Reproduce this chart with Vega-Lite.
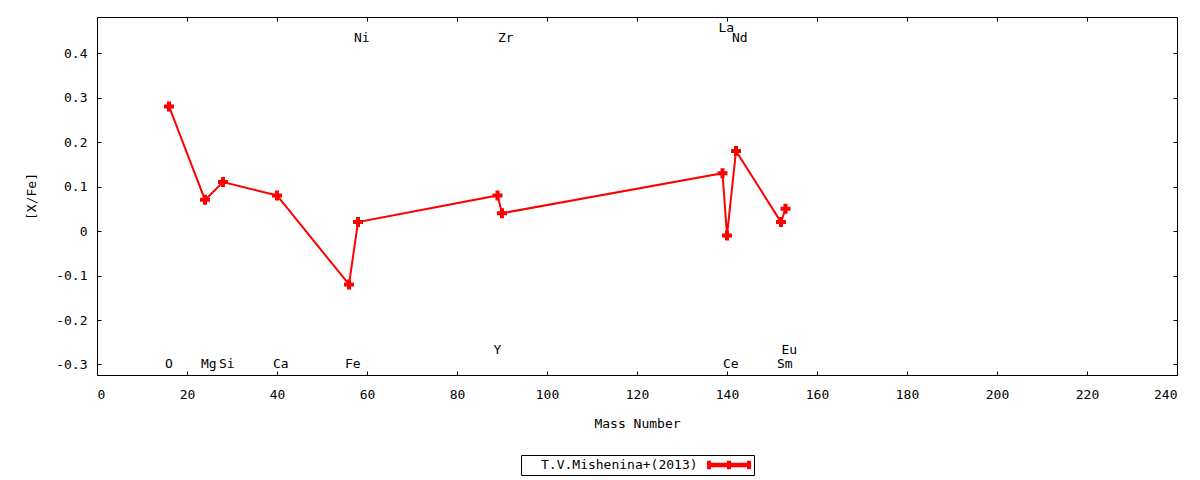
{
  "$schema": "https://vega.github.io/schema/vega-lite/v6.json",
  "width": 1080,
  "height": 358,
  "autosize": "none",
  "padding": {"left": 97, "top": 17, "right": 23, "bottom": 105},
  "background": "white",
  "config": {
    "font": "DejaVu Sans Mono",
    "view": {"stroke": "black", "strokeWidth": 1},
    "axis": {
      "domain": false,
      "grid": false,
      "tickColor": "black",
      "tickSize": -4,
      "labelFont": "DejaVu Sans Mono",
      "labelFontSize": 13,
      "labelColor": "black",
      "titleFont": "DejaVu Sans Mono",
      "titleFontSize": 13,
      "titleFontWeight": "normal",
      "titleColor": "black"
    },
    "legend": {
      "layout": {"bottom": {"anchor": "middle"}}
    }
  },
  "data": {
    "values": [
      {"element": "O", "mass": 16, "xfe": 0.28, "label_y": -0.299, "source": "T.V.Mishenina+(2013)"},
      {"element": "Mg", "mass": 24, "xfe": 0.07, "label_y": -0.299, "source": "T.V.Mishenina+(2013)"},
      {"element": "Si", "mass": 28, "xfe": 0.11, "label_y": -0.299, "source": "T.V.Mishenina+(2013)"},
      {"element": "Ca", "mass": 40, "xfe": 0.08, "label_y": -0.299, "source": "T.V.Mishenina+(2013)"},
      {"element": "Fe", "mass": 56, "xfe": -0.12, "label_y": -0.299, "source": "T.V.Mishenina+(2013)"},
      {"element": "Ni", "mass": 58, "xfe": 0.02, "label_y": 0.434, "source": "T.V.Mishenina+(2013)"},
      {"element": "Y", "mass": 89, "xfe": 0.08, "label_y": -0.267, "source": "T.V.Mishenina+(2013)"},
      {"element": "Zr", "mass": 90, "xfe": 0.04, "label_y": 0.434, "source": "T.V.Mishenina+(2013)"},
      {"element": "La", "mass": 139, "xfe": 0.13, "label_y": 0.456, "source": "T.V.Mishenina+(2013)"},
      {"element": "Ce", "mass": 140, "xfe": -0.01, "label_y": -0.299, "source": "T.V.Mishenina+(2013)"},
      {"element": "Nd", "mass": 142, "xfe": 0.18, "label_y": 0.434, "source": "T.V.Mishenina+(2013)"},
      {"element": "Sm", "mass": 152, "xfe": 0.02, "label_y": -0.299, "source": "T.V.Mishenina+(2013)"},
      {"element": "Eu", "mass": 153, "xfe": 0.05, "label_y": -0.267, "source": "T.V.Mishenina+(2013)"}
    ]
  },
  "layer": [
    {
      "mark": {"type": "line", "strokeWidth": 2, "color": "#ff0000"},
      "encoding": {
        "x": {
          "field": "mass", "type": "quantitative",
          "scale": {"domain": [0, 240], "nice": false, "zero": false},
          "axis": {"orient": "bottom", "values": [0, 20, 40, 60, 80, 100, 120, 140, 160, 180, 200, 220, 240], "title": "Mass Number", "labelPadding": 17, "titlePadding": 16}
        },
        "y": {
          "field": "xfe", "type": "quantitative",
          "scale": {"domain": [-0.3236, 0.481], "nice": false, "zero": false},
          "axis": {"orient": "left", "values": [-0.3, -0.2, -0.1, 0, 0.1, 0.2, 0.3, 0.4], "labelExpr": "'' + round(datum.value * 10) / 10", "title": "[X/Fe]", "labelPadding": 14, "titlePadding": 17}
        },
        "color": {
          "field": "source", "type": "nominal",
          "scale": {"range": ["#ff0000"]},
          "legend": {
            "title": null,
            "orient": "bottom",
            "symbolType": "M-3.14,-0.6H-2.57V-0.33H-0.29V-0.6H0.29V-0.33H2.57V-0.6H3.14V0.6H2.57V0.33H0.29V0.6H-0.29V0.33H-2.57V0.6H-3.14Z",
            "symbolSize": 196,
            "symbolFillColor": "#ff0000",
            "symbolStrokeWidth": 0,
            "symbolOffset": 198,
            "labelFontSize": 13,
            "labelFont": "DejaVu Sans Mono",
            "labelColor": "black",
            "labelAlign": "left",
            "labelOffset": -195,
            "strokeColor": "black",
            "padding": 3,
            "offset": 25
          }
        }
      }
    },
    {
      "mark": {"type": "point", "shape": "M-1,-0.4H-0.4V-1H0.4V-0.4H1V0.4H0.4V1H-0.4V0.4H-1Z", "size": 100, "filled": true, "opacity": 1, "strokeWidth": 0},
      "encoding": {
        "x": {"field": "mass", "type": "quantitative", "axis": null},
        "y": {"field": "xfe", "type": "quantitative", "axis": null},
        "color": {"field": "source", "type": "nominal"}
      }
    },
    {
      "mark": {"type": "text", "align": "left", "baseline": "middle", "dx": -4, "fontSize": 13, "font": "DejaVu Sans Mono", "color": "black"},
      "encoding": {
        "x": {
          "field": "mass", "type": "quantitative",
          "axis": {"orient": "top", "values": [0, 20, 40, 60, 80, 100, 120, 140, 160, 180, 200, 220, 240], "labels": false, "title": null}
        },
        "y": {
          "field": "label_y", "type": "quantitative",
          "axis": {"orient": "right", "values": [-0.3, -0.2, -0.1, 0, 0.1, 0.2, 0.3, 0.4], "labels": false, "title": null}
        },
        "text": {"field": "element"}
      }
    }
  ],
  "resolve": {"axis": {"x": "independent", "y": "independent"}}
}
